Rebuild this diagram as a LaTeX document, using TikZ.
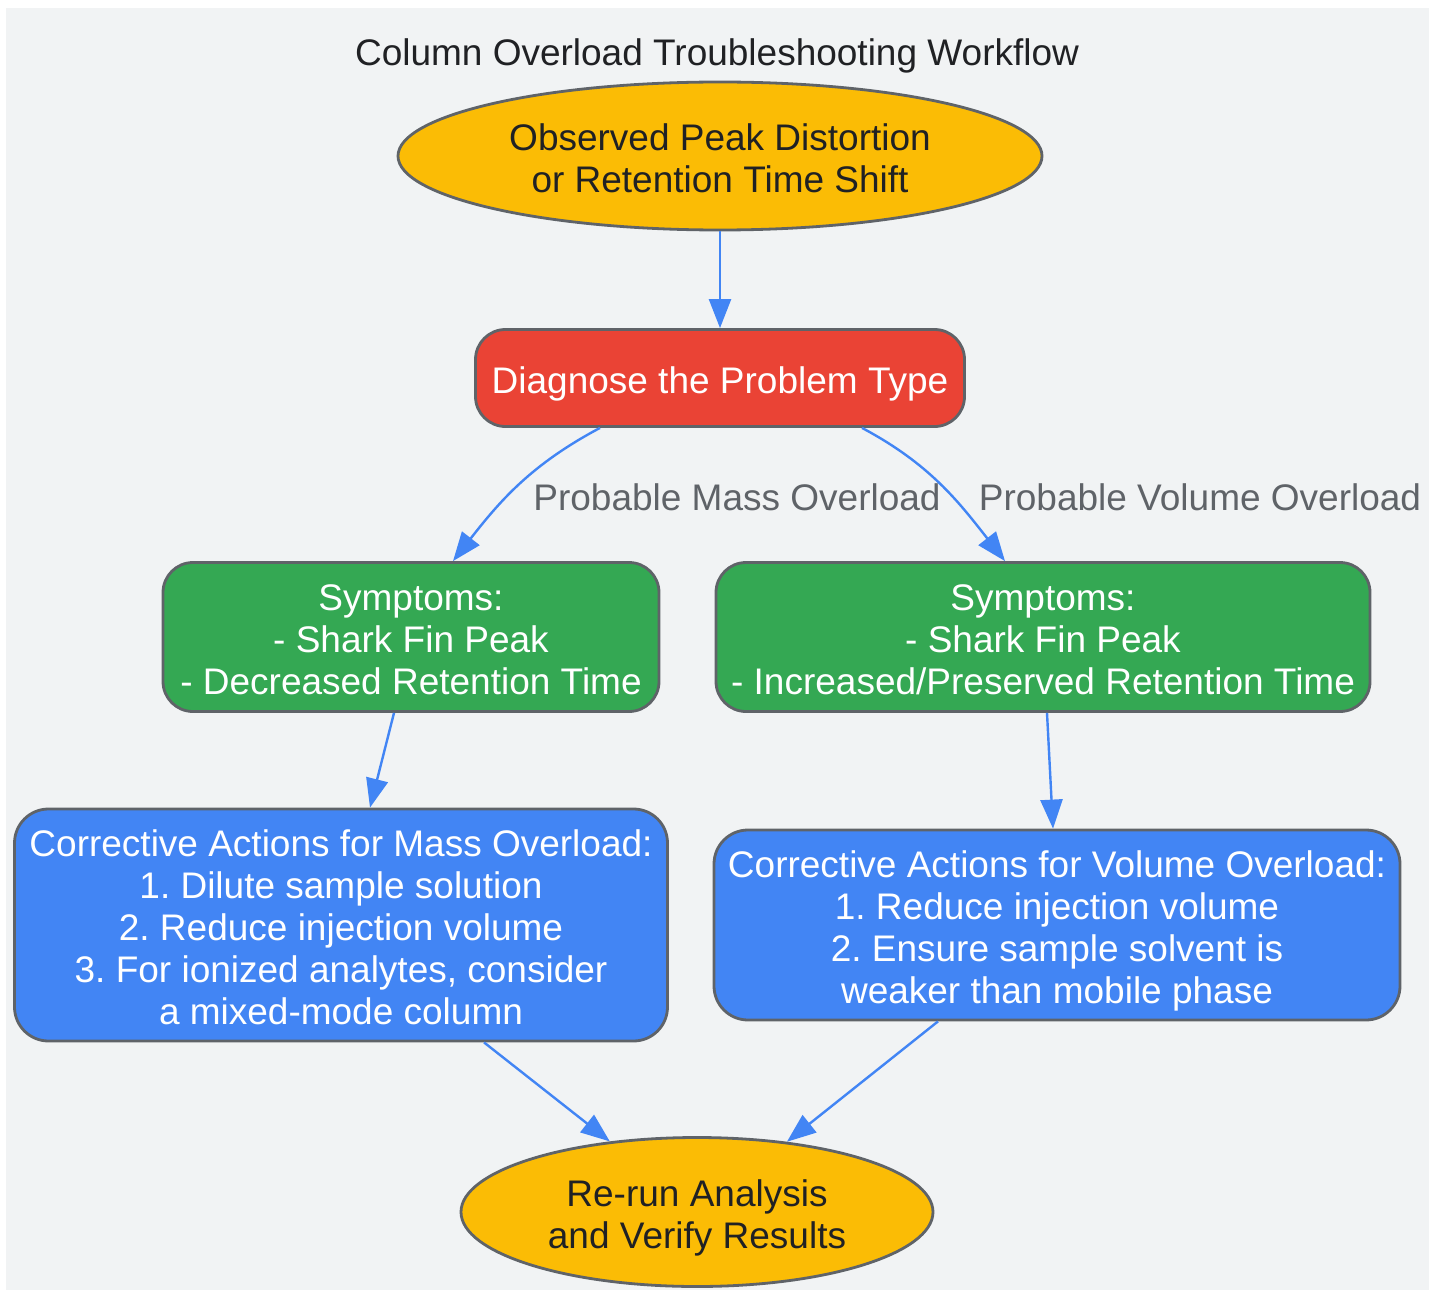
\documentclass[tikz,border=0pt]{standalone}
\usepackage{fontspec}
\setmainfont{Liberation Sans}
\frenchspacing
\usetikzlibrary{shapes.geometric,arrows.meta}
\definecolor{bgGray}{HTML}{F1F3F4}
\definecolor{edgeGray}{HTML}{5F6368}
\definecolor{txtDark}{HTML}{202124}
\definecolor{gYellow}{HTML}{FBBC05}
\definecolor{gRed}{HTML}{EA4335}
\definecolor{gGreen}{HTML}{34A853}
\definecolor{gBlue}{HTML}{4285F4}
\newcommand{\topfix}{\rule{0pt}{39.5pt}}
\newcommand{\botfix}{\rule[-8pt]{0pt}{8pt}}

\tikzset{
  box/.style={draw=edgeGray, line width=2.8pt, rounded corners=30pt, align=center, inner sep=0pt, text=white},
  oval/.style={ellipse, draw=edgeGray, line width=2.8pt, fill=gYellow, align=center, inner sep=0pt, text=txtDark},
  flow/.style={draw=gBlue, line width=2.4pt, -{Triangle[length=29pt,width=22pt]}},
  lbl/.style={text=edgeGray}
}

\begin{document}
\begin{tikzpicture}[x=1pt,y=-1pt,font=\fontsize{37}{42}\selectfont]
\useasboundingbox (0,0) rectangle (1440,1292);
\fill[bgGray] (6,8) rectangle (1429,1290);

\node[anchor=center, text=txtDark] (title) at (717,56) {Column Overload Troubleshooting Workflow};

\node[oval, minimum width=644pt, minimum height=148pt] (observed) at (720,156) {\topfix Observed Peak Distortion\\or Retention Time Shift\botfix};
\node[box, fill=gRed, minimum width=489pt, minimum height=97pt] (diagnose) at (720,378) {\topfix Diagnose the Problem Type\botfix};
\node[box, fill=gGreen, minimum width=496pt, minimum height=149pt] (massSym) at (411,637) {\topfix Symptoms:\\- Shark Fin Peak\\- Decreased Retention Time\botfix};
\node[box, fill=gGreen, minimum width=654pt, minimum height=149pt] (volSym) at (1043,637) {\topfix Symptoms:\\- Shark Fin Peak\\- Increased/Preserved Retention Time\botfix};
\node[box, fill=gBlue, minimum width=653pt, minimum height=232pt, rounded corners=34pt] (massFix) at (341,925) {\topfix Corrective Actions for Mass Overload:\\1. Dilute sample solution\\2. Reduce injection volume\\3. For ionized analytes, consider\\a mixed-mode column\botfix};
\node[box, fill=gBlue, minimum width=686pt, minimum height=190pt, rounded corners=34pt] (volFix) at (1057,925) {\topfix Corrective Actions for Volume Overload:\\1. Reduce injection volume\\2. Ensure sample solvent is\\weaker than mobile phase\botfix};
\node[oval, minimum width=472pt, minimum height=149pt] (rerun) at (697,1212) {\topfix Re-run Analysis\\and Verify Results\botfix};

\node[lbl] (massLbl) at (737,497) {Probable Mass Overload};
\node[lbl] (volLbl) at (1200,497) {Probable Volume Overload};

\draw[flow] (observed.south) -- (diagnose.north);
\draw[flow] ([xshift=-120pt]diagnose.south) to[out=-152,in=52] ([xshift=42pt]massSym.north);
\draw[flow] ([xshift=142pt]diagnose.south) to[out=-28,in=128] ([xshift=-38pt]volSym.north);
\draw[flow] ([xshift=-17pt]massSym.south) -- ([xshift=29pt]massFix.north);
\draw[flow] ([xshift=4pt]volSym.south) -- ([xshift=-4pt]volFix.north);
\draw[flow] ([xshift=143pt]massFix.south) -- (rerun.141);
\draw[flow] ([xshift=-119pt]volFix.south) -- (rerun.38);
\end{tikzpicture}
\end{document}
